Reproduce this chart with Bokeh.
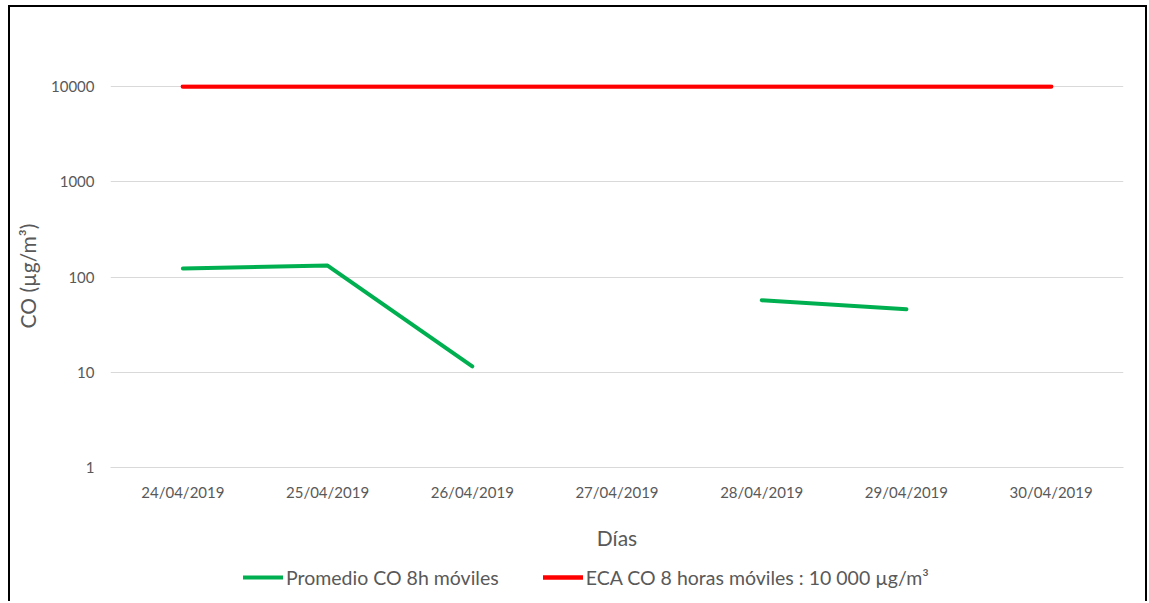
from bokeh.plotting import figure
from bokeh.layouts import column
from bokeh.models import (FixedTicker, PrintfTickFormatter, Legend, LegendItem,
                          ColumnDataSource, Range1d)
from bokeh.embed import file_html
from bokeh.resources import INLINE
import numpy as np

dates = ["24/04/2019", "25/04/2019", "26/04/2019", "27/04/2019",
         "28/04/2019", "29/04/2019", "30/04/2019"]
promedio_co = [123, 132, 11.5, np.nan, 57, 46, np.nan]
eca_co = [10000, 10000, 10000, 10000, 10000, 10000, 10000]
y_ticks = [1, 10, 100, 1000, 10000]
series_names = ["Promedio CO 8h móviles", "ECA CO 8 horas móviles : 10 000 µg/m³"]

FONT = "Lato"
GREY = "#595959"
GREEN = "#00b050"
RED = "#ff0000"

p = figure(x_range=dates, y_range=(1, 10500), y_axis_type="log",
           width=1135, height=558, output_backend="svg", toolbar_location=None,
           min_border_left=100, min_border_right=22, min_border_top=77, min_border_bottom=98)
p.outline_line_color = None

src = ColumnDataSource(dict(x=dates, g=promedio_co, r=eca_co))
p.line("x", "g", source=src, line_color=GREEN, line_width=4, line_cap="round", line_join="round")
p.line("x", "r", source=src, line_color=RED, line_width=4.5, line_cap="round")

p.xgrid.grid_line_color = None
p.ygrid.grid_line_color = "#d9d9d9"
p.ygrid.grid_line_width = 1

p.yaxis.ticker = FixedTicker(ticks=y_ticks, minor_ticks=[])
p.yaxis.formatter = PrintfTickFormatter(format="%d")
p.yaxis.axis_line_color = None
p.yaxis.major_tick_line_color = None
p.yaxis.minor_tick_line_color = None
p.yaxis.major_label_standoff = 10
p.yaxis.axis_label = "CO (µg/m³)"
p.yaxis.axis_label_standoff = 8

p.xaxis.axis_line_color = "#d9d9d9"
p.xaxis.major_tick_line_color = None
p.xaxis.minor_tick_line_color = None
p.xaxis.major_label_standoff = 9
p.xaxis.axis_label = "Días"
p.xaxis.axis_label_standoff = 21

for ax in (p.xaxis[0], p.yaxis[0]):
    ax.major_label_text_font = FONT
    ax.major_label_text_font_size = "15px"
    ax.major_label_text_color = GREY
    ax.axis_label_text_font = FONT
    ax.axis_label_text_font_size = "21px"
    ax.axis_label_text_font_style = "normal"
    ax.axis_label_text_color = GREY

# legend strip (its frame is aligned with the main plot's frame)
pl = figure(width=1135, height=36, output_backend="svg", toolbar_location=None,
            x_axis_type=None, y_axis_type=None, min_border=0,
            x_range=Range1d(0, 1), y_range=Range1d(0, 1))
pl.outline_line_color = None
lg = pl.line(x=[5, 6], y=[5, 6], line_color=GREEN, line_width=4, line_cap="round")
lr = pl.line(x=[5, 6], y=[5, 6], line_color=RED, line_width=4.5, line_cap="round")

legend = Legend(items=[LegendItem(label=series_names[0], renderers=[lg]),
                       LegendItem(label=series_names[1], renderers=[lr])],
                orientation="horizontal", location=(133, 12))
legend.label_text_font = FONT
legend.label_text_font_size = "19.5px"
legend.label_text_color = GREY
legend.glyph_width = 40
legend.label_standoff = 3
legend.spacing = 44
legend.padding = 0
legend.margin = 0
legend.border_line_color = None
legend.background_fill_alpha = 0
legend.label_height = 24
legend.glyph_height = 24
pl.add_layout(legend, "center")

layout = column(p, pl, spacing=0)
layout.styles = {"margin-left": "8px", "margin-top": "5px",
                 "border-left": "2px solid black", "border-top": "2px solid black",
                 "border-right": "2px solid black"}

open("out.html", "w").write(file_html(layout, INLINE))
